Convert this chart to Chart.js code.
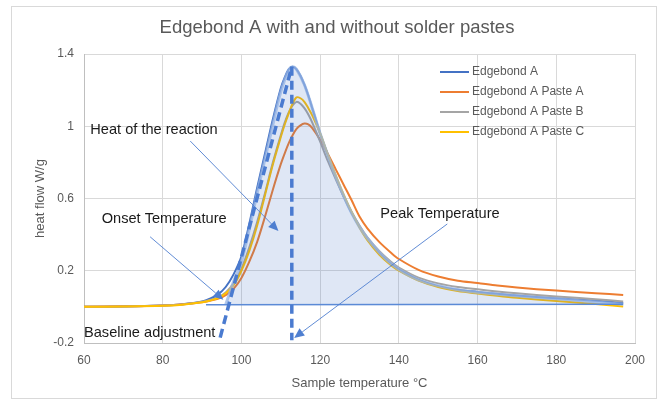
<!DOCTYPE html>
<html><head><meta charset="utf-8">
<script src="https://cdn.jsdelivr.net/npm/chart.js@4.4.1/dist/chart.umd.min.js"></script>
<style>html,body{margin:0;padding:0;background:#fff;}canvas{display:block;}</style>
</head><body>
<canvas id="c" width="659" height="405"></canvas>
<script>
// ---- data ----
const temps = [60,70,80,85,90,92,94,96,98,100,102,104,106,108,110,111,112,113,114,115,116,117,118,120,122,124,126,128,130,132,135,138,140,145,150,155,160,165,170,180,190,197];
const edgebondA = [0.0,0.002,0.008,0.015,0.03,0.045,0.068,0.11,0.18,0.28,0.46,0.66,0.85,1.04,1.21,1.27,1.315,1.33,1.315,1.28,1.23,1.17,1.10,0.96,0.84,0.72,0.61,0.52,0.445,0.38,0.30,0.24,0.21,0.15,0.115,0.095,0.083,0.072,0.063,0.048,0.034,0.022];
const pasteA = [0.0,0.003,0.008,0.014,0.026,0.034,0.045,0.065,0.10,0.16,0.25,0.36,0.50,0.65,0.79,0.85,0.905,0.95,0.985,1.005,1.015,1.01,0.99,0.925,0.845,0.76,0.675,0.59,0.50,0.435,0.36,0.30,0.265,0.205,0.168,0.145,0.132,0.118,0.107,0.09,0.076,0.066];
const pasteB = [0.0,0.002,0.007,0.013,0.028,0.038,0.053,0.08,0.13,0.21,0.33,0.47,0.63,0.80,0.95,1.02,1.075,1.115,1.135,1.125,1.10,1.065,1.02,0.915,0.805,0.705,0.61,0.525,0.45,0.385,0.31,0.25,0.218,0.162,0.13,0.11,0.097,0.085,0.075,0.058,0.042,0.03];
const pasteC = [0.0,0.002,0.006,0.012,0.025,0.035,0.048,0.075,0.12,0.20,0.31,0.45,0.62,0.79,0.94,1.01,1.07,1.125,1.16,1.155,1.135,1.10,1.06,0.96,0.84,0.725,0.62,0.525,0.44,0.37,0.29,0.23,0.20,0.145,0.11,0.088,0.074,0.061,0.05,0.033,0.016,0.002];
const seriesNames = ['Edgebond A','Edgebond A Paste A','Edgebond A Paste B','Edgebond A Paste C'];

// shaded "heat of the reaction" shape
const shapeTemps = [96,98,100,102,104,106,108,110,112,113,114,116,118,120,124,128,132,138,145,155,165,180,197];
const shapeFlow  = [0.012,0.14,0.25,0.43,0.63,0.82,1.01,1.19,1.31,1.33,1.315,1.23,1.10,0.96,0.72,0.52,0.38,0.24,0.15,0.095,0.07,0.045,0.015];
// construction lines
const baselineTemps = [91,197];
const baselineFlow  = [0.012,0.015];
const tangentTemps = [94.6,112.8];
const tangentFlow  = [-0.17,1.33];
const peakTemps = [112.8,112.8];
const peakFlow  = [1.33,-0.185];

// axes
const xTicks = [60,80,100,120,140,160,180,200];
const yTicks = [-0.2,0.2,0.6,1,1.4];
const yTickLabels = ['-0.2','0.2','0.6','1','1.4'];

// annotations (data units)
const noteTexts = ['Heat of the reaction','Onset Temperature','Peak Temperature','Baseline adjustment'];
const noteX = [61.6,64.5,135.3,60];
const noteY = [0.98,0.485,0.514,-0.147];
const arrowFromX = [87,76.8,152.3];
const arrowFromY = [0.918,0.388,0.459];
const arrowToX = [109.4,95.4,113.4];
const arrowToY = [0.42,0.04,-0.172];

const pts = (xs, ys) => xs.map((x, i) => ({x, y: ys[i]}));
const colors = ['#4472c4','#ed7d31','#a5a5a5','#ffc000'];
const FONT = "'Liberation Sans', Arial, sans-serif";

const lineDs = (label, data, color, order) => ({
  label, data: pts(temps, data), borderColor: color, backgroundColor: color,
  borderWidth: 2, pointRadius: 0, tension: 0.3, order, fill: false
});

const annot = {
  id: 'annot',
  beforeDraw(chart) {
    const ctx = chart.ctx;
    ctx.save();
    ctx.fillStyle = '#fff';
    ctx.fillRect(0, 0, chart.width, chart.height);
    ctx.strokeStyle = '#d9d9d9';
    ctx.lineWidth = 1;
    ctx.strokeRect(11.5, 6.5, 645, 392);
    ctx.restore();
  },
  afterDatasetsDraw(chart) {
    const ctx = chart.ctx, xs = chart.scales.x, ys = chart.scales.y, ca = chart.chartArea;
    ctx.save();
    // arrows
    ctx.strokeStyle = '#4f7fd0'; ctx.fillStyle = '#4f7fd0'; ctx.lineWidth = 0.9;
    for (let i = 0; i < arrowFromX.length; i++) {
      const x1 = xs.getPixelForValue(arrowFromX[i]), y1 = ys.getPixelForValue(arrowFromY[i]);
      const x2 = xs.getPixelForValue(arrowToX[i]), y2 = ys.getPixelForValue(arrowToY[i]);
      const a = Math.atan2(y2 - y1, x2 - x1), L = 10, W = 4.5;
      const bx = x2 - L * Math.cos(a), by = y2 - L * Math.sin(a);
      ctx.beginPath(); ctx.moveTo(x1, y1); ctx.lineTo(bx, by); ctx.stroke();
      ctx.beginPath(); ctx.moveTo(x2, y2);
      ctx.lineTo(bx + W * Math.sin(a), by - W * Math.cos(a));
      ctx.lineTo(bx - W * Math.sin(a), by + W * Math.cos(a));
      ctx.closePath(); ctx.fill();
    }
    // texts
    ctx.fillStyle = '#1a1a1a'; ctx.font = '14.6px ' + FONT; ctx.textBaseline = 'middle'; ctx.textAlign = 'left';
    noteTexts.forEach((t, i) => ctx.fillText(t, xs.getPixelForValue(noteX[i]), ys.getPixelForValue(noteY[i])));
    // legend
    ctx.font = '12px ' + FONT; ctx.fillStyle = '#595959';
    seriesNames.forEach((n, i) => {
      const yy = ca.top + 18 + i * 20;
      ctx.strokeStyle = colors[i]; ctx.lineWidth = 2;
      ctx.beginPath(); ctx.moveTo(ca.left + 356, yy); ctx.lineTo(ca.left + 385, yy); ctx.stroke();
      ctx.fillText(n, ca.left + 388, yy);
    });
    ctx.restore();
  }
};

new Chart(document.getElementById('c'), {
  type: 'line',
  data: {
    datasets: [
      {label: 'tangent', data: pts(tangentTemps, tangentFlow), borderColor: '#4a7bd0', borderWidth: 3.5, borderDash: [9,5], pointRadius: 0, order: 0, fill: false},
      {label: 'peak', data: pts(peakTemps, peakFlow), borderColor: '#4a7bd0', borderWidth: 3.5, borderDash: [9,5], pointRadius: 0, order: 0, fill: false},
      {label: 'baseline', data: pts(baselineTemps, baselineFlow), borderColor: '#5b8ad6', borderWidth: 1.5, pointRadius: 0, order: 1, fill: false},
      {label: 'shape', data: pts(shapeTemps, shapeFlow), borderColor: 'rgba(150,180,228,0.75)', borderWidth: 3, pointRadius: 0, tension: 0.3, order: 1,
        fill: {value: 0.012}, backgroundColor: 'rgba(68,114,196,0.17)'},
      lineDs(seriesNames[3], pasteC, colors[3], 2),
      lineDs(seriesNames[2], pasteB, colors[2], 3),
      lineDs(seriesNames[1], pasteA, colors[1], 4),
      lineDs(seriesNames[0], edgebondA, colors[0], 5),
    ]
  },
  options: {
    responsive: false, animation: false, devicePixelRatio: 1,
    layout: {padding: {left: 25, right: 10, top: 0, bottom: 10}},
    plugins: {
      legend: {display: false}, tooltip: {enabled: false},
      title: {display: true, text: 'Edgebond A with and without solder pastes', color: '#595959',
        font: {family: FONT, size: 18.5, weight: 'normal', lineHeight: 1.2}, padding: {top: 17, bottom: 14.8}}
    },
    scales: {
      x: {
        type: 'linear', min: 60, max: 200,
        afterBuildTicks: s => { s.ticks = xTicks.map(v => ({value: v})); },
        afterFit: s => { s.height = 405 - 10 - 343; s.paddingLeft = 0; s.paddingRight = 24; },
        ticks: {color: '#595959', font: {family: FONT, size: 12}, padding: 10, maxRotation: 0, autoSkip: false},
        grid: {color: '#d9d9d9', drawTicks: false},
        border: {color: '#bfbfbf'},
        title: {display: true, text: 'Sample temperature °C', color: '#595959', font: {family: FONT, size: 13}, padding: {bottom: 4, top: 0}}
      },
      y: {
        type: 'linear', min: -0.2, max: 1.4,
        afterBuildTicks: s => { s.ticks = yTicks.map(v => ({value: v})); },
        afterFit: s => { s.width = 59; s.paddingTop = 0; s.paddingBottom = 0; },
        ticks: {color: '#595959', font: {family: FONT, size: 12}, padding: 10, autoSkip: false,
          callback: (v) => yTickLabels[yTicks.findIndex(t => Math.abs(t - v) < 1e-6)]},
        grid: {color: '#d9d9d9', drawTicks: false},
        border: {color: '#bfbfbf'},
        title: {display: true, text: 'heat flow W/g', color: '#595959', font: {family: FONT, size: 13}, padding: {top: 8, bottom: 0}}
      }
    }
  },
  plugins: [annot]
});
</script>
</body></html>
